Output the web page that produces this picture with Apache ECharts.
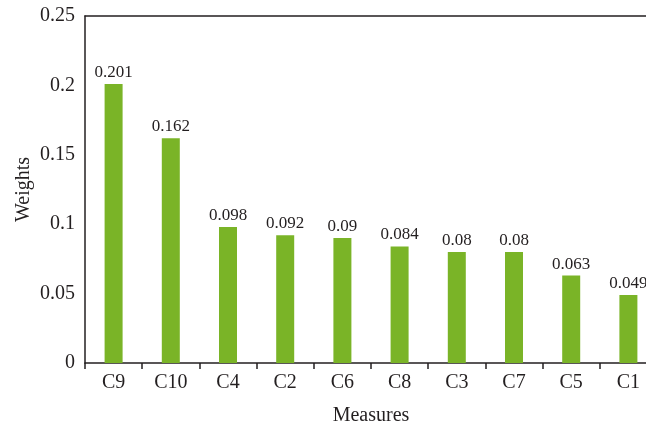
<!DOCTYPE html>
<html><head><meta charset="utf-8">
<script src="https://cdn.jsdelivr.net/npm/echarts@6/dist/echarts.min.js"></script>
<style>html,body{margin:0;padding:0;background:#fff}#c{width:646px;height:428px}</style>
</head><body><div id="c"></div>
<script>
const categories = ['C9','C10','C4','C2','C6','C8','C3','C7','C5','C1'];
const weights = [0.201,0.162,0.098,0.092,0.09,0.084,0.08,0.08,0.063,0.049];
const yTicks = [0,0.05,0.1,0.15,0.2,0.25];
const font = 'Liberation Serif';
const chart = echarts.init(document.getElementById('c'));
chart.setOption({
  animation:false,
  grid:{left:85, top:16, width:572, height:347, outerBoundsMode:'none', containLabel:false},
  xAxis:[{
    type:'category', data:categories, name:'Measures', nameLocation:'middle', nameGap:43,
    nameTextStyle:{fontFamily:font,fontSize:20,color:'#231f20'},
    axisLine:{lineStyle:{color:'#231f20',width:1.5}},
    axisTick:{show:true,length:6,lineStyle:{color:'#231f20',width:1.5}},
    axisLabel:{fontFamily:font,fontSize:20,color:'#231f20',margin:10}
  },{
    type:'category', data:categories, position:'top',
    axisLine:{lineStyle:{color:'#231f20',width:1.5}},
    axisTick:{show:false}, axisLabel:{show:false}
  }],
  yAxis:{
    type:'value', min:0, max:0.25, interval:0.05, name:'Weights', nameLocation:'middle', nameGap:51,
    nameMoveOverlap:false,
    nameTextStyle:{fontFamily:font,fontSize:20,color:'#231f20'},
    axisLine:{show:true,lineStyle:{color:'#231f20',width:1.5}},
    axisTick:{show:false}, splitLine:{show:false},
    axisLabel:{fontFamily:font,fontSize:20,color:'#231f20',margin:10,padding:[0,0,6,0],
      formatter:v=>{const t=yTicks.find(x=>Math.abs(x-v)<1e-9);return t===undefined?'':String(t);}}
  },
  series:[{
    type:'bar', data:weights, barWidth:18,
    itemStyle:{color:'#7ab427'},
    label:{show:true,position:'top',distance:3,fontFamily:font,fontSize:17,color:'#231f20',
      formatter:p=>String(p.value)}
  }]
});
</script></body></html>
